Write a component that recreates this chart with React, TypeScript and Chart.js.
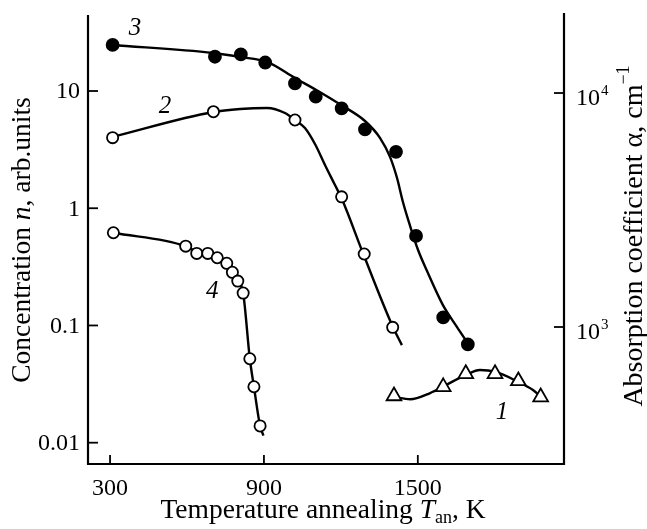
import React, { useEffect, useRef } from "react";
import { Chart, registerables } from "chart.js";
Chart.register(...registerables);

// ---- axis ticks ----
const xTicks = [300, 900, 1500];
const leftTicks = [0.01, 0.1, 1, 10];
const leftTickLabels = ["0.01", "0.1", "1", "10"];
const rightTicks = [1000, 10000];
const rightTickExp = ["3", "4"];

// ---- curve 3 (filled circles, left axis) ----
const t3 = [310, 709, 810, 905, 1021, 1102, 1203, 1294, 1415, 1493, 1599, 1695];
const n3 = [24.7, 19.6, 20.5, 17.5, 11.6, 8.95, 7.1, 4.7, 3.03, 0.58, 0.117, 0.069];
const fit3T = [308, 702, 807, 912, 1021, 1111, 1201, 1294, 1353, 1392, 1419, 1442, 1470, 1501, 1536, 1598, 1653, 1692];
const fit3N = [24.7, 21.1, 19.5, 17.7, 12.9, 10.0, 7.59, 5.55, 3.97, 2.73, 1.81, 1.13, 0.705, 0.44, 0.291, 0.149, 0.0969, 0.0722];

// ---- curve 2 (open circles, left axis) ----
const t2 = [310, 703, 1021, 1203, 1291, 1402];
const n2 = [4.0, 6.66, 5.66, 1.25, 0.407, 0.0964];
const fit2T = [308, 702, 807, 912, 982, 1021, 1060, 1099, 1138, 1177, 1204, 1286, 1403, 1438];
const fit2N = [4.05, 6.62, 7.02, 7.16, 6.49, 5.66, 4.83, 3.53, 2.34, 1.578, 1.198, 0.4147, 0.0969, 0.068];

// ---- curve 4 (open circles, left axis) ----
const t4 = [313, 595, 638, 681, 718, 755, 777, 798, 819, 845, 861, 885];
const n4 = [0.618, 0.475, 0.412, 0.412, 0.378, 0.339, 0.284, 0.239, 0.189, 0.052, 0.03, 0.0139];
const fit4T = [313, 595, 638, 681, 718, 755, 777, 798, 819, 845, 861, 885, 898];
const fit4N = [0.618, 0.475, 0.425, 0.405, 0.378, 0.339, 0.284, 0.239, 0.189, 0.052, 0.03, 0.0139, 0.0115];

// ---- curve 1 (triangles, right axis) ----
const t1 = [1407, 1599, 1687, 1801, 1892, 1979];
const a1 = [507, 555, 631, 631, 588, 502];
const fit1T = [1407, 1470, 1548, 1598, 1688, 1742, 1801, 1891, 1949, 1980];
const fit1A = [502, 491, 522, 556, 624, 655, 644, 583, 538, 504];

// ---- curve labels ----
const curveLabels = ["3", "2", "4", "1"];
const curveLabelT = [397, 514, 698, 1828];
const curveLabelV = [34.5, 7.45, 0.197, 433];
const curveLabelAxis = ["yL", "yL", "yL", "yR"];

const xy = (xs: number[], ys: number[]) => xs.map((x, i) => ({ x, y: ys[i] }));

const SERIF = "'Liberation Serif', 'Times New Roman', serif";

const decor = {
  id: "decor",
  afterDatasetsDraw(chart: any) {
    const { ctx, chartArea: a, scales } = chart;
    const xs = scales.x, yl = scales.yL, yr = scales.yR;
    ctx.save();
    ctx.strokeStyle = "#000";
    ctx.fillStyle = "#000";
    ctx.lineWidth = 2.2;
    ctx.beginPath();
    ctx.moveTo(a.left, a.top);
    ctx.lineTo(a.left, a.bottom);
    ctx.lineTo(a.right, a.bottom);
    ctx.lineTo(a.right, a.top - 2);
    ctx.stroke();

    ctx.lineWidth = 1.8;
    ctx.font = `24px ${SERIF}`;
    // x ticks
    ctx.textAlign = "center";
    ctx.textBaseline = "alphabetic";
    xTicks.forEach((v) => {
      const px = xs.getPixelForValue(v);
      ctx.beginPath();
      ctx.moveTo(px, a.bottom);
      ctx.lineTo(px, a.bottom - 9);
      ctx.stroke();
      ctx.fillText(String(v), px, a.bottom + 31);
    });
    // left ticks
    ctx.textAlign = "right";
    ctx.textBaseline = "middle";
    leftTicks.forEach((v, i) => {
      const py = yl.getPixelForValue(v);
      ctx.beginPath();
      ctx.moveTo(a.left, py);
      ctx.lineTo(a.left + 10, py);
      ctx.stroke();
      ctx.fillText(leftTickLabels[i], a.left - 8, py + 1);
    });
    // right ticks
    ctx.textAlign = "left";
    ctx.textBaseline = "alphabetic";
    rightTicks.forEach((v, i) => {
      const py = yr.getPixelForValue(v);
      ctx.beginPath();
      ctx.moveTo(a.right, py);
      ctx.lineTo(a.right - 10, py);
      ctx.stroke();
      ctx.font = `24px ${SERIF}`;
      ctx.fillText("10", a.right + 12, py + 12);
      const w = ctx.measureText("10").width;
      ctx.font = `15px ${SERIF}`;
      ctx.fillText(rightTickExp[i], a.right + 13 + w, py + 2);
    });

    // curve labels
    ctx.font = `italic 25px ${SERIF}`;
    ctx.textAlign = "center";
    ctx.textBaseline = "middle";
    curveLabels.forEach((s, i) => {
      const sc = curveLabelAxis[i] === "yL" ? yl : yr;
      ctx.fillText(s, xs.getPixelForValue(curveLabelT[i]), sc.getPixelForValue(curveLabelV[i]));
    });

    const drawRuns = (runs: { t: string; f: string; dy?: number }[], x0: number, y0: number) => {
      let total = 0;
      runs.forEach((r) => {
        ctx.font = r.f;
        total += ctx.measureText(r.t).width;
      });
      let x = x0 - total / 2;
      ctx.textAlign = "left";
      ctx.textBaseline = "alphabetic";
      runs.forEach((r) => {
        ctx.font = r.f;
        ctx.fillText(r.t, x, y0 + (r.dy || 0));
        x += ctx.measureText(r.t).width;
      });
    };

    const F = `27.5px ${SERIF}`;
    const FI = `italic 27.5px ${SERIF}`;
    const FS = `18px ${SERIF}`;
    // x title
    drawRuns(
      [
        { t: "Temperature annealing ", f: F },
        { t: "T", f: FI },
        { t: "an", f: FS, dy: 5 },
        { t: ", K", f: F },
      ],
      323,
      518
    );
    // left title
    ctx.save();
    ctx.translate(30, 240);
    ctx.rotate(-Math.PI / 2);
    drawRuns(
      [
        { t: "Concentration ", f: F },
        { t: "n", f: FI },
        { t: ", arb.units", f: F },
      ],
      0,
      0
    );
    ctx.restore();
    // right title
    ctx.save();
    ctx.translate(642, 236);
    ctx.rotate(-Math.PI / 2);
    drawRuns(
      [
        { t: "Absorption coefficient \u03B1, cm", f: `28px ${SERIF}` },
        { t: "\u22121", f: FS, dy: -13 },
      ],
      0,
      0
    );
    ctx.restore();
    ctx.restore();
  },
};

export default function App() {
  const ref = useRef<HTMLCanvasElement | null>(null);
  useEffect(() => {
    document.body.style.margin = "0";
    const canvas = ref.current!;
    const black = "#000";
    const line = (data: any, axis: string) => ({
      data,
      yAxisID: axis,
      showLine: true,
      borderColor: black,
      borderWidth: 2.4,
      pointRadius: 0,
      cubicInterpolationMode: "monotone",
      order: 2,
    });
    const marks = (data: any, axis: string, style: string, fill: string, r: number) => ({
      data,
      yAxisID: axis,
      showLine: false,
      pointStyle: style,
      pointRadius: r,
      pointBackgroundColor: fill,
      pointBorderColor: black,
      pointBorderWidth: 1.8,
      order: 0,
    });
    const chart = new Chart(canvas, {
      type: "scatter",
      data: {
        datasets: [
          marks(xy(t3, n3), "yL", "circle", black, 6),
          marks(xy(t2, n2), "yL", "circle", "#fff", 5.6),
          marks(xy(t4, n4), "yL", "circle", "#fff", 5.6),
          marks(xy(t1, a1), "yR", "triangle", "#fff", 8.5),
          line(xy(fit3T, fit3N), "yL"),
          line(xy(fit2T, fit2N), "yL"),
          line(xy(fit4T, fit4N), "yL"),
          line(xy(fit1T, fit1A), "yR"),
        ] as any,
      },
      options: {
        animation: false,
        responsive: false,
        devicePixelRatio: 1,
        layout: { padding: { left: 88, right: 83, top: 15, bottom: 65 } },
        plugins: { legend: { display: false }, tooltip: { enabled: false } },
        events: [],
        scales: {
          x: { type: "linear", display: false, min: 214, max: 2070 },
          yL: { type: "logarithmic", display: false, position: "left", min: 0.00658, max: 44.5 },
          yR: { type: "logarithmic", display: false, position: "right", min: 259.7, max: 21550 },
        },
      } as any,
      plugins: [decor],
    });
    return () => chart.destroy();
  }, []);
  return <canvas ref={ref} width={647} height={529} style={{ display: "block" }} />;
}
